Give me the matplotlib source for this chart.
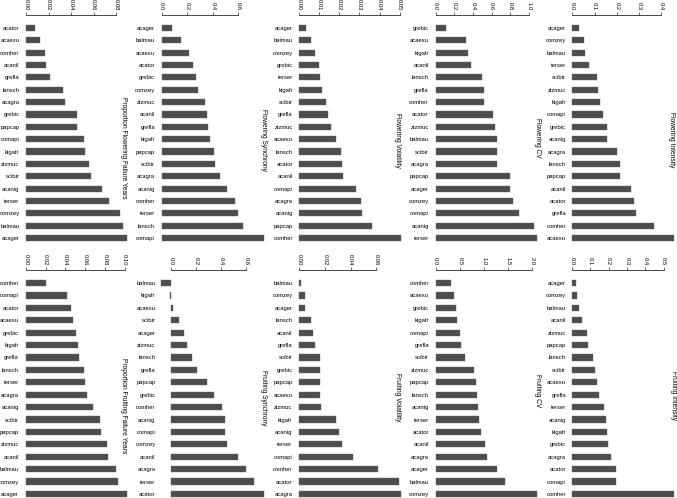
import numpy as np
import matplotlib.pyplot as plt

plt.rcParams['font.family'] = ['Liberation Sans', 'DejaVu Sans']

W, H = 677, 498
BAR = '#4d4d4d'

# Flowering panels (top row)
fl_fail_sp = ["acator", "acaexu", "comher", "acanil", "grefla", "lansch", "acagra", "grebic", "papcap",
              "comapi", "kigafr", "zizmuc", "scibir", "acanig", "terser", "comzey", "balmau", "acager"]
fl_fail_val = [0.0077, 0.0127, 0.0168, 0.0177, 0.0216, 0.0331, 0.0342, 0.0455, 0.0455,
               0.0517, 0.0520, 0.0555, 0.0579, 0.0670, 0.0735, 0.0832, 0.0856, 0.0897]

fl_sync_sp = ["acager", "balmau", "acaexu", "acator", "grebic", "comzey", "zizmuc", "acanil", "grefla",
              "kigafr", "papcap", "scibir", "acagra", "acanig", "comher", "terser", "lansch", "comapi"]
fl_sync_val = [0.081, 0.149, 0.211, 0.245, 0.271, 0.282, 0.339, 0.352, 0.365,
               0.376, 0.410, 0.420, 0.454, 0.511, 0.571, 0.600, 0.639, 0.800]

fl_vol_sp = ["acager", "balmau", "comzey", "grebic", "terser", "kigafr", "scibir", "grefla", "zizmuc",
             "acaexu", "lansch", "acator", "acanil", "comapi", "acagra", "acanig", "papcap", "comher"]
fl_vol_val = [0.0035, 0.0058, 0.0079, 0.0101, 0.0104, 0.0114, 0.0136, 0.0144, 0.0160,
              0.0184, 0.0209, 0.0212, 0.0217, 0.0281, 0.0308, 0.0313, 0.0364, 0.0507]

fl_cv_sp = ["grebic", "acaexu", "kigafr", "acanil", "lansch", "grefla", "comher", "acator", "zizmuc",
            "balmau", "scibir", "acagra", "papcap", "acager", "comzey", "comapi", "acanig", "terser"]
fl_cv_val = [0.107, 0.325, 0.346, 0.382, 0.493, 0.518, 0.521, 0.611, 0.636,
             0.654, 0.654, 0.661, 0.793, 0.800, 0.829, 0.889, 1.054, 1.089]

fl_int_sp = ["acager", "comzey", "balmau", "terser", "scibir", "zizmuc", "kigafr", "comapi", "grebic",
             "acanig", "acagra", "lansch", "papcap", "acanil", "acator", "grefla", "comher", "acaexu"]
fl_int_val = [0.031, 0.051, 0.057, 0.073, 0.109, 0.115, 0.123, 0.139, 0.154,
              0.157, 0.199, 0.213, 0.216, 0.262, 0.276, 0.286, 0.367, 0.456]

# Fruiting panels (bottom row)
fr_fail_sp = ["comher", "comapi", "acator", "acaexu", "grebic", "kigafr", "grefla", "lansch", "terser",
              "acagra", "acanig", "scibir", "papcap", "zizmuc", "acanil", "balmau", "comzey", "acager"]
fr_fail_val = [0.0199, 0.0419, 0.0456, 0.0476, 0.0503, 0.0527, 0.0537, 0.0584, 0.0595,
               0.0618, 0.0679, 0.0747, 0.0760, 0.0824, 0.0828, 0.0916, 0.0929, 0.1027]

fr_sync_sp = ["balmau", "kigafr", "acaexu", "scibir", "acager", "zizmuc", "lansch", "grefla", "papcap",
              "grebic", "comher", "acanig", "comapi", "comzey", "acanil", "acagra", "terser", "acator"]
fr_sync_val = [-0.080, -0.012, 0.014, 0.067, 0.104, 0.125, 0.165, 0.211, 0.285,
               0.341, 0.408, 0.432, 0.435, 0.445, 0.539, 0.597, 0.661, 0.747]

fr_vol_sp = ["balmau", "comzey", "acager", "lansch", "acanil", "grefla", "scibir", "grebic", "papcap",
             "acaexu", "zizmuc", "kigafr", "acanig", "terser", "comapi", "comher", "acator", "acagra"]
fr_vol_val = [0.0016, 0.0042, 0.0042, 0.0091, 0.0104, 0.0122, 0.0161, 0.0161, 0.0161,
              0.0161, 0.0166, 0.0283, 0.0306, 0.0335, 0.0421, 0.0613, 0.0777, 0.0792]

fr_cv_sp = ["comher", "acaexu", "grebic", "kigafr", "comapi", "grefla", "scibir", "zizmuc", "papcap",
            "lansch", "acanig", "terser", "acator", "acanil", "acagra", "acager", "balmau", "comzey"]
fr_cv_val = [0.324, 0.386, 0.414, 0.434, 0.503, 0.517, 0.600, 0.786, 0.834,
             0.848, 0.883, 0.890, 0.931, 1.021, 1.062, 1.276, 1.434, 2.100]

fr_int_sp = ["acager", "comzey", "balmau", "acanil", "zizmuc", "papcap", "lansch", "scibir", "acaexu",
             "grefla", "terser", "acanig", "kigafr", "grebic", "acagra", "acator", "comapi", "comher"]
fr_int_val = [0.020, 0.025, 0.040, 0.055, 0.082, 0.087, 0.115, 0.124, 0.136,
              0.145, 0.176, 0.185, 0.189, 0.196, 0.213, 0.238, 0.240, 0.555]

# panel: species, values, title, ticks, fmt, zero px, px per unit, xlim, top px, bottom px, title pos
panels = [
    (fl_fail_sp, fl_fail_val, "Proportion Flowering Failure Years", np.arange(0, 0.081, 0.02), "%.2f",
     26, 1129, (-0.002, 0.092), 15, 244.2, (124, 148)),
    (fl_sync_sp, fl_sync_val, "Flowering Synchrony", np.arange(0, 0.61, 0.2), "%.1f",
     161.7, 127.7, (-0.02, 0.82), 15, 244.2, (263, 140)),
    (fl_vol_sp, fl_vol_val, "Flowering Volatility", np.arange(0, 0.051, 0.01), "%.2f",
     299, 2014, (-0.001, 0.052), 15, 244.2, (397, 140)),
    (fl_cv_sp, fl_cv_val, "Flowering CV", np.arange(0, 1.01, 0.2), "%.1f",
     435.7, 93.3, (-0.03, 1.12), 15, 244.2, (538, 138)),
    (fl_int_sp, fl_int_val, "Flowering Intensity", np.arange(0, 0.41, 0.1), "%.1f",
     572.3, 222.5, (-0.01, 0.47), 15, 244.2, (672, 140)),
    (fr_fail_sp, fr_fail_val, "Proportion Fruiting Failure Years", np.arange(0, 0.101, 0.02), "%.2f",
     26, 987, (-0.003, 0.105), 270, 500.2, (124, 406)),
    (fr_sync_sp, fr_sync_val, "Fruiting Synchrony", np.arange(0, 0.61, 0.2), "%.1f",
     171, 125, (-0.09, 0.76), 270, 500.2, (263, 398)),
    (fr_vol_sp, fr_vol_val, "Fruiting Volatility", np.arange(0, 0.061, 0.02), "%.2f",
     299.3, 1283, (-0.002, 0.081), 270, 500.2, (397, 397)),
    (fr_cv_sp, fr_cv_val, "Fruiting CV", np.arange(0, 2.01, 0.5), "%.1f",
     435.7, 48.3, (-0.05, 2.15), 270, 500.2, (538, 391)),
    (fr_int_sp, fr_int_val, "Fruiting Intensity", np.arange(0, 0.51, 0.1), "%.1f",
     572, 183.4, (-0.01, 0.57), 270, 500.2, (674, 396)),
]

fig = plt.figure(figsize=(W / 100, H / 100), dpi=100)

for sp, vals, title, ticks, fmt, x0, ppu, xlim, top, bottom, tpos in panels:
    left = x0 + xlim[0] * ppu
    right = x0 + xlim[1] * ppu
    ax = fig.add_axes([left / W, 1 - bottom / H, (right - left) / W, (bottom - top) / H])
    pos = np.arange(len(sp))
    ax.barh(pos, vals, height=0.5, color=BAR, edgecolor='#6a6a6a', linewidth=0.3)
    ax.set_xlim(*xlim)
    ax.set_ylim(len(sp) - 0.5, -1.05)
    ax.set_yticks(pos)
    ax.set_yticklabels(sp, fontsize=4.2)
    ax.tick_params(axis='y', length=0, pad=3)
    ax.xaxis.tick_top()
    ax.set_xticks(ticks)
    ax.set_xticklabels([fmt % t for t in ticks], fontsize=4.2, rotation=-90)
    ax.tick_params(axis='x', length=2, width=0.5, pad=1.5, color='#333333')
    for s in ['left', 'right', 'bottom']:
        ax.spines[s].set_visible(False)
    ax.spines['top'].set_bounds(ticks[0], ticks[-1])
    ax.spines['top'].set_linewidth(0.5)
    ax.set_facecolor('none')
    fig.text(tpos[0] / W, 1 - tpos[1] / H, title, rotation=-90, fontsize=4.8,
             ha='center', va='center')

fig.savefig('out.png', dpi=100)
